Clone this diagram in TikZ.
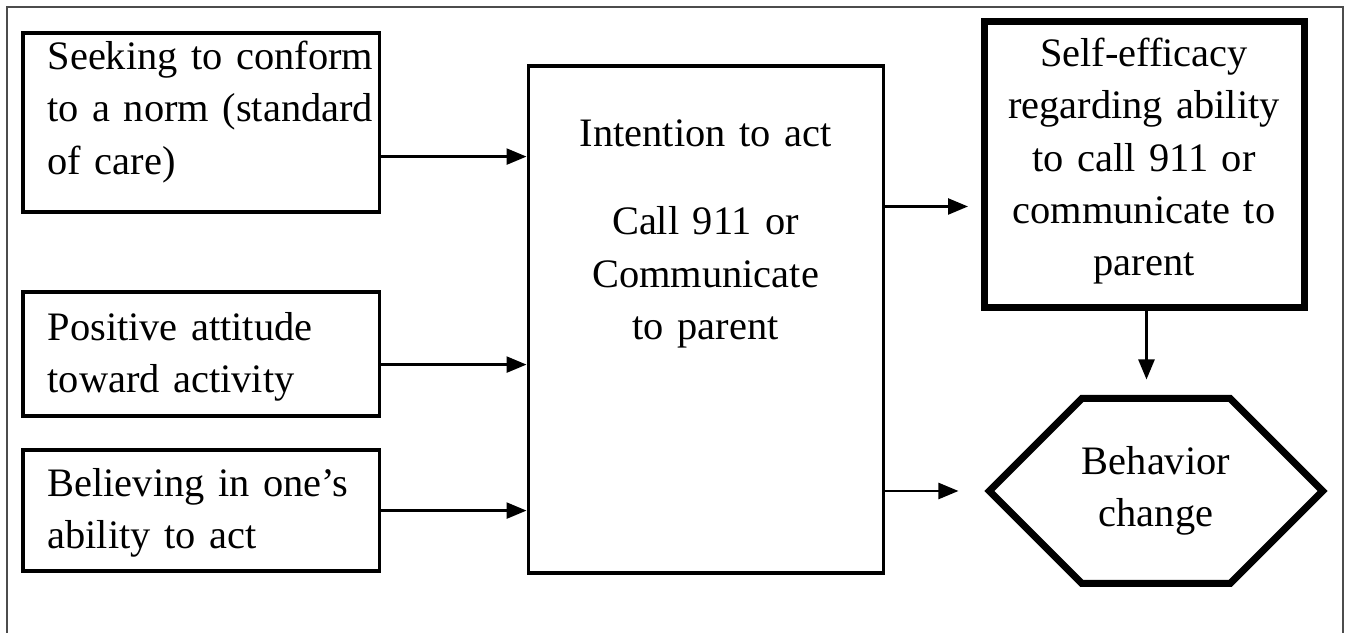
\documentclass[tikz,border=0pt]{standalone}
\usepackage{fontspec}
\setmainfont{Liberation Serif}
\usetikzlibrary{arrows.meta,shapes.symbols}
\newcommand{\padded}[1]{\leftskip=0.245cm\relax #1\par}

\begin{document}
\begin{tikzpicture}[
	txt/.style={font=\fontsize{11.5}{14.9}\selectfont},
	factor/.style={txt, draw, line width=0.032cm, anchor=north west, inner sep=0pt, text width=3.56cm},
	heavy/.style={txt, draw, line width=0.07cm, inner sep=0pt},
	link/.style={line width=0.025cm, -{Triangle[length=0.2cm,width=0.16cm]}}
]
	\useasboundingbox (0,0) rectangle (13.47,-6.33);
	\draw[black!70, line width=0.015cm] (0.07,-6.6) -- (0.07,-0.07) -- (13.43,-0.07) -- (13.43,-6.6);
%
	\node[factor, text height=0.365cm, text depth=1.425cm] (norm) at (0.215,-0.315) {\padded{Seeking to conform\\to a norm (standard\\of care)}};
	\node[factor, text height=0.485cm, text depth=0.755cm] (attitude) at (0.215,-2.905) {\padded{Positive attitude\\toward activity}};
	\node[factor, text height=0.465cm, text depth=0.745cm] (belief) at (0.215,-4.485) {\padded{Believing in one's\\ability to act}};
%
	\node[txt, draw, line width=0.032cm, anchor=north west, inner sep=0pt, text width=3.55cm, align=center, text height=0.805cm, text depth=4.265cm] (intent) at (5.265,-0.645) {Intention to act\\[0.36cm]Call 911 or\\Communicate\\to parent};
%
	\node[heavy, anchor=north west, text width=3.2cm, align=center, text height=0.445cm, text depth=2.415cm] (efficacy) at (9.805,-0.185) {Self-efficacy\\regarding ability\\to call 911 or\\communicate to\\parent};
	\node[heavy, shape=signal, signal to=east and west, minimum width=3.24cm, minimum height=1.85cm, align=center] (change) at (11.56,-4.91) {Behavior\\change};
%
	\draw[link] ([yshift=-0.34cm]norm.east) -- ([yshift=-0.34cm]norm.east -| intent.west);
	\draw[link] ([yshift=-0.105cm]attitude.east) -- ([yshift=-0.105cm]attitude.east -| intent.west);
	\draw[link] (belief.east) -- (belief.east -| intent.west);
%
	\draw[link, shorten >=0.125cm] ([yshift=-0.415cm]efficacy.west -| intent.east) -- ([yshift=-0.415cm]efficacy.west);
	\draw[link, shorten >=0.26cm] (change.west -| intent.east) -- (change.west);
	\draw[link, shorten >=0.155cm] ([xshift=0.025cm]efficacy.south) -- ([xshift=0.025cm]efficacy.south |- change.north);
\end{tikzpicture}
\end{document}
